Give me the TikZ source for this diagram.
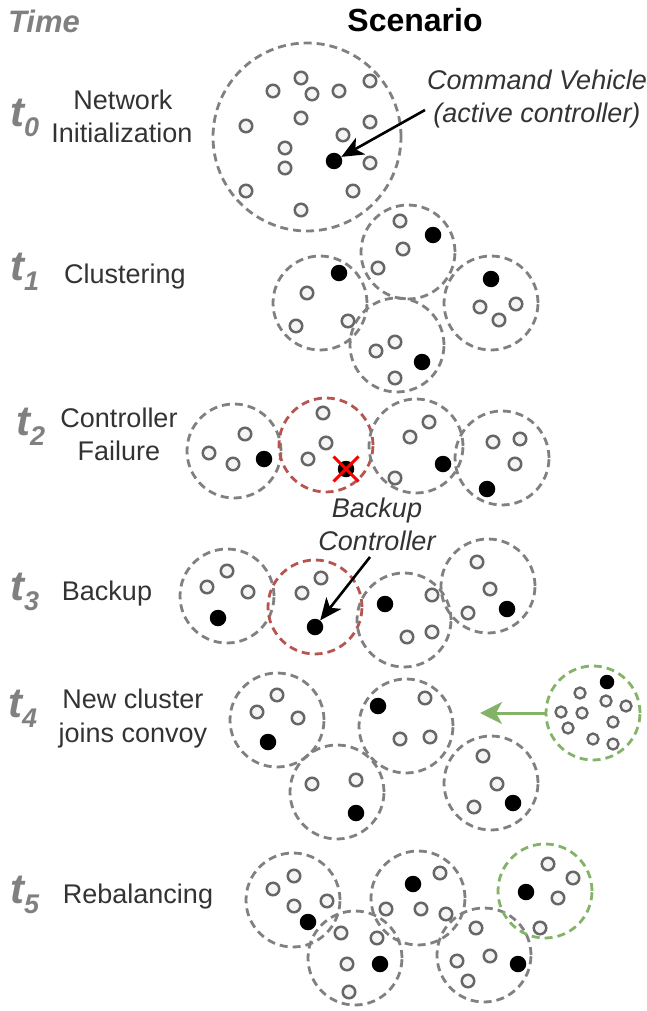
\documentclass[tikz,border=0pt]{standalone}
\usepackage{fontspec}
\setmainfont{Liberation Sans}
\usetikzlibrary{arrows.meta}
\definecolor{cgray}{HTML}{808080}
\definecolor{ngray}{HTML}{666666}
\definecolor{nfill}{HTML}{F5F5F5}
\definecolor{cred}{HTML}{B85450}
\definecolor{cgreen}{HTML}{82B366}
\definecolor{tgray}{HTML}{333333}
\definecolor{tlgray}{HTML}{808080}
\tikzset{
 clus/.style={circle, draw=cgray, line width=2.8pt, dash pattern=on 8pt off 5pt, minimum size=94pt, inner sep=0pt},
 clred/.style={clus, draw=cred},
 clgreen/.style={clus, draw=cgreen},
 vo/.style={circle, draw=ngray, fill=nfill, line width=2.5pt, minimum size=12.5pt, inner sep=0pt},
 vf/.style={circle, fill=black, minimum size=16.5pt, inner sep=0pt},
 vos/.style={vo, minimum size=11pt, line width=2.3pt},
 vfs/.style={vf, minimum size=14.5pt},
 lab/.style={font=\fontsize{27}{27}\selectfont, text=tgray, anchor=base, inner sep=0pt},
 ann/.style={font=\fontsize{27}{27}\selectfont\itshape, text=tgray, anchor=base, inner sep=0pt},
 tlab/.style={font=\fontsize{42}{42}\selectfont\bfseries\itshape, text=tlgray, anchor=base west, inner sep=0pt},
 hdr/.style={font=\fontsize{32}{32}\selectfont\bfseries, anchor=base, inner sep=0pt},
 arr/.style={draw=black, line width=2.6pt, -{Stealth[length=22pt,width=19pt,inset=6pt]}},
 garr/.style={draw=cgreen, line width=3pt, -{Stealth[length=22pt,width=22pt,inset=6pt]}},
 redx/.style={draw=red, line width=3pt},
}
\newcommand{\tsub}[1]{\raisebox{-10pt}{\fontsize{27}{27}\selectfont #1}}
\begin{document}
\begin{tikzpicture}[x=1pt,y=-1pt]
\useasboundingbox (0,0) rectangle (647,1011);

% headers
\node[hdr, text=tlgray, font=\fontsize{31}{31}\selectfont\bfseries\itshape] (time) at (44,33) {Time};
\node[hdr] (scen) at (415,32) {Scenario};

% time labels
\node[tlab] (t0) at (10,127) {t\tsub{0}};
\node[tlab] (t1) at (10,280) {t\tsub{1}};
\node[tlab] (t2) at (16,435) {t\tsub{2}};
\node[tlab] (t3) at (10,600) {t\tsub{3}};
\node[tlab] (t4) at (8,717) {t\tsub{4}};
\node[tlab] (t5) at (10,903) {t\tsub{5}};

% phase labels
\node[lab] (l0a) at (123,110) {Network};
\node[lab] (l0b) at (122,143) {Initialization};
\node[lab] (l1) at (125,283) {Clustering};
\node[lab] (l2a) at (119,427) {Controller};
\node[lab] (l2b) at (119,460) {Failure};
\node[lab] (l3) at (107,600) {Backup};
\node[lab] (l4a) at (133,708) {New cluster};
\node[lab] (l4b) at (133,742) {joins convoy};
\node[lab] (l5) at (138,903) {Rebalancing};

% annotations
\node[ann] (cv1) at (537,90) {Command Vehicle};
\node[ann] (cv2) at (537,123) {(active controller)};
\node[ann] (bc1) at (377,517) {Backup};
\node[ann] (bc2) at (377,550) {Controller};

% cluster circles
\node[clus, minimum size=188pt] (c0) at (307,137) {};
\node[clus] (c1a) at (320,303) {};
\node[clus] (c1b) at (408,252) {};
\node[clus] (c1c) at (397,345) {};
\node[clus] (c1d) at (491,303) {};
\node[clus] (c2a) at (234,451) {};
\node[clred] (c2b) at (326,445) {};
\node[clus] (c2c) at (416,446) {};
\node[clus] (c2d) at (502,458) {};
\node[clus] (c3a) at (227,596) {};
\node[clred] (c3b) at (315,607) {};
\node[clus] (c3c) at (404,620) {};
\node[clus] (c3d) at (488,586) {};
\node[clus] (c4a) at (277,720) {};
\node[clus] (c4b) at (406,726) {};
\node[clus] (c4c) at (337,792) {};
\node[clus] (c4d) at (491,783) {};
\node[clgreen] (c4e) at (593,713) {};
\node[clus] (c5a) at (293,900) {};
\node[clus] (c5b) at (355,958) {};
\node[clus] (c5c) at (418,898) {};
\node[clus] (c5d) at (484,955) {};
\node[clgreen] (c5e) at (545,891) {};

% open vehicles
\foreach \x/\y [count=\i] in {301/78,273/91,312/94,339/91,370/81,301/118,370/122,246/126,343/135,285/148,285/168,370/163,246/191,353/191,301/210}
  \node[vo] (o0-\i) at (\x,\y) {};
\foreach \x/\y [count=\i] in {307/293,296/326,348/321, 400/221,403/249,378/268, 395/342,376/351,395/378, 480/307,499/320,516/304}
  \node[vo] (o1-\i) at (\x,\y) {};
\foreach \x/\y [count=\i] in {245/434,209/453,233/464, 323/413,326/443,308/459, 429/422,410/437,395/478, 493/442,520/439,515/464}
  \node[vo] (o2-\i) at (\x,\y) {};
\foreach \x/\y [count=\i] in {227/571,207/587,248/592, 321/578,302/593, 432/595,432/632,407/637, 477/562,490/589,468/613}
  \node[vo] (o3-\i) at (\x,\y) {};
\foreach \x/\y [count=\i] in {277/695,257/712,298/718, 425/698,400/739,430/737, 312/784,356/780, 483/756,497/784,474/807}
  \node[vo] (o4-\i) at (\x,\y) {};
\foreach \x/\y [count=\i] in {580/693,606/701,626/706,561/712,582/713,613/722,568/728,593/739,613/744}
  \node[vos] (g4-\i) at (\x,\y) {};
\foreach \x/\y [count=\i] in {294/876,273/889,294/906,327/901, 341/933,377/938,347/964,349/992, 440/873,386/909,421/909,446/914, 476/928,490/956,457/961,468/981, 548/864,573/878,558/898,540/928}
  \node[vo] (o5-\i) at (\x,\y) {};

% controllers
\node[vf] (f0) at (334,161) {};
\node[vf] (f1a) at (339,273) {};
\node[vf] (f1b) at (433,235) {};
\node[vf] (f1c) at (422,362) {};
\node[vf] (f1d) at (491,279) {};
\node[vf] (f2a) at (264,459) {};
\node[vf] (f2b) at (346,469) {};
\node[vf] (f2c) at (443,464) {};
\node[vf] (f2d) at (487,489) {};
\node[vf] (f3a) at (218,618) {};
\node[vf] (f3b) at (315,627) {};
\node[vf] (f3c) at (385,604) {};
\node[vf] (f3d) at (507,609) {};
\node[vf] (f4a) at (268,742) {};
\node[vf] (f4b) at (378,706) {};
\node[vf] (f4c) at (356,813) {};
\node[vf] (f4d) at (513,803) {};
\node[vfs] (f4e) at (607,682) {};
\node[vf] (f5a) at (308,922) {};
\node[vf] (f5b) at (380,964) {};
\node[vf] (f5c) at (413,884) {};
\node[vf] (f5d) at (518,964) {};
\node[vf] (f5e) at (526,892) {};

% failed controller cross
\draw[redx] ([shift={(-12.5,-12.5)}]f2b.center) -- ([shift={(12.5,12.5)}]f2b.center);
\draw[redx] ([shift={(-12.5,12.5)}]f2b.center) -- ([shift={(12.5,-12.5)}]f2b.center);

% arrows
\coordinate (cvs) at (425,110);
\draw[arr] (cvs) -- (f0);
\coordinate (bcs) at (370,557);
\draw[arr] (bcs) -- (f3b);
\coordinate (g4tip) at (480,713);
\draw[garr] (c4e.west) -- (g4tip);
\end{tikzpicture}
\end{document}
